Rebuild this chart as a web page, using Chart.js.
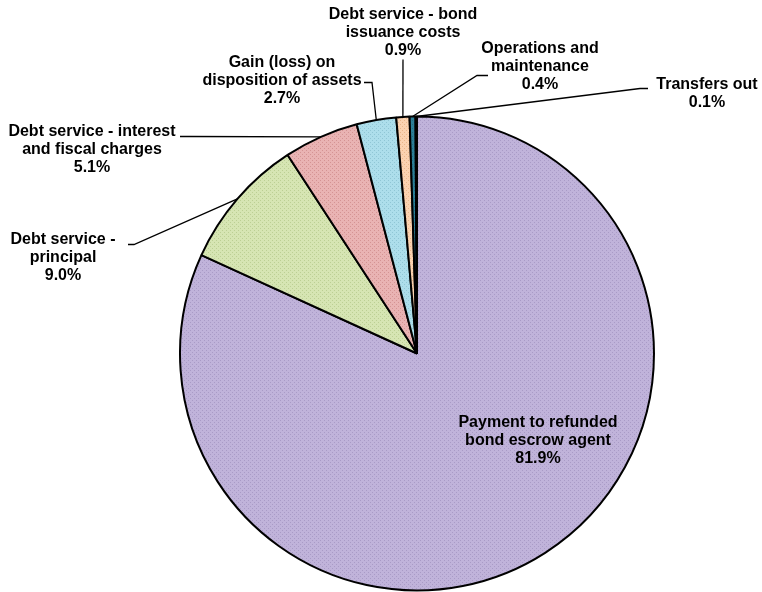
<!DOCTYPE html>
<html>
<head>
<meta charset="utf-8">
<script src="https://cdn.jsdelivr.net/npm/chart.js@4.4.0/dist/chart.umd.min.js"></script>
<style>
  html, body { margin: 0; padding: 0; background: #fff; }
  #wrap { width: 762px; height: 592px; }
</style>
</head>
<body>
<div id="wrap"><canvas id="pieChart" width="762" height="592"></canvas></div>
<script>
// chart values
const categories = [
  'Payment to refunded bond escrow agent',
  'Debt service - principal',
  'Debt service - interest and fiscal charges',
  'Gain (loss) on disposition of assets',
  'Debt service - bond issuance costs',
  'Operations and maintenance',
  'Transfers out'
];
const shares = [81.9, 9.0, 5.1, 2.7, 0.9, 0.4, 0.1];
const labelLines = [
  ['Payment to refunded', 'bond escrow agent'],
  ['Debt service -', 'principal'],
  ['Debt service - interest', 'and fiscal charges'],
  ['Gain (loss) on', 'disposition of assets'],
  ['Debt service - bond', 'issuance costs'],
  ['Operations and', 'maintenance'],
  ['Transfers out']
];

// fill colours [base, dot]
const fills = [
  ['#c0b3da', '#a99bc6'],
  ['#d6e5b3', '#bccf94'],
  ['#e9b3b3', '#d49393'],
  ['#addeeb', '#90c6d5'],
  ['#fbd2b0', '#e8b58a'],
  ['#2b7f98', '#236b80'],
  ['#1f3f6e', '#1f3f6e']
];

// label placement, offsets from the pie centre (text centre x, first line y),
// plus the leader start and elbow; labels without start sit inside the slice
const labelLayout = [
  { tx: 121, ty: 69 },
  { tx: -354, ty: -114, start: [-289, -109], elbow: [-283, -109] },
  { tx: -325, ty: -222, start: [-237, -217], elbow: [-228, -217] },
  { tx: -135, ty: -291, start: [-53, -271], elbow: [-45, -271] },
  { tx: -14, ty: -339, start: [-14, -294], elbow: null },
  { tx: 123, ty: -305, start: [71, -278], elbow: [60, -278] },
  { tx: 290, ty: -269, start: [231, -265], elbow: [223, -265] }
];

function dotPattern(base, dot) {
  const c = document.createElement('canvas');
  c.width = 4; c.height = 4;
  const g = c.getContext('2d');
  g.fillStyle = base;
  g.fillRect(0, 0, 4, 4);
  g.fillStyle = dot;
  g.fillRect(0, 0, 1, 1);
  g.fillRect(2, 2, 1, 1);
  return g.createPattern(c, 'repeat');
}

const outsideLabels = {
  id: 'outsideLabels',
  afterDraw(chart) {
    const ctx = chart.ctx;
    const arcs = chart.getDatasetMeta(0).data;
    ctx.save();
    ctx.font = 'bold 16px "Liberation Sans", Arial, sans-serif';
    ctx.fillStyle = '#000';
    ctx.textAlign = 'center';
    ctx.textBaseline = 'middle';
    ctx.strokeStyle = '#000';
    ctx.lineWidth = 1.3;
    arcs.forEach((arc, i) => {
      const cx = arc.x, cy = arc.y;
      const lay = labelLayout[i];
      const lines = labelLines[i].concat([shares[i].toFixed(1) + '%']);
      lines.forEach((t, k) => {
        ctx.fillText(t, cx + lay.tx, cy + lay.ty + k * 18);
      });
      if (lay.start) {
        const mid = (arc.startAngle + arc.endAngle) / 2;
        const ex = cx + Math.cos(mid) * arc.outerRadius;
        const ey = cy + Math.sin(mid) * arc.outerRadius;
        ctx.beginPath();
        ctx.moveTo(cx + lay.start[0], cy + lay.start[1]);
        if (lay.elbow) ctx.lineTo(cx + lay.elbow[0], cy + lay.elbow[1]);
        ctx.lineTo(ex, ey);
        ctx.stroke();
      }
    });
    ctx.restore();
  }
};

new Chart(document.getElementById('pieChart'), {
  type: 'pie',
  data: {
    labels: categories,
    datasets: [{
      data: shares,
      backgroundColor: fills.map(f => dotPattern(f[0], f[1])),
      borderColor: '#000',
      borderWidth: 2,
      borderAlign: 'center'
    }]
  },
  options: {
    responsive: false,
    animation: false,
    layout: { padding: { left: 179, right: 107, top: 115, bottom: 0 } },
    plugins: {
      legend: { display: false },
      tooltip: { enabled: false }
    }
  },
  plugins: [outsideLabels]
});
</script>
</body>
</html>
